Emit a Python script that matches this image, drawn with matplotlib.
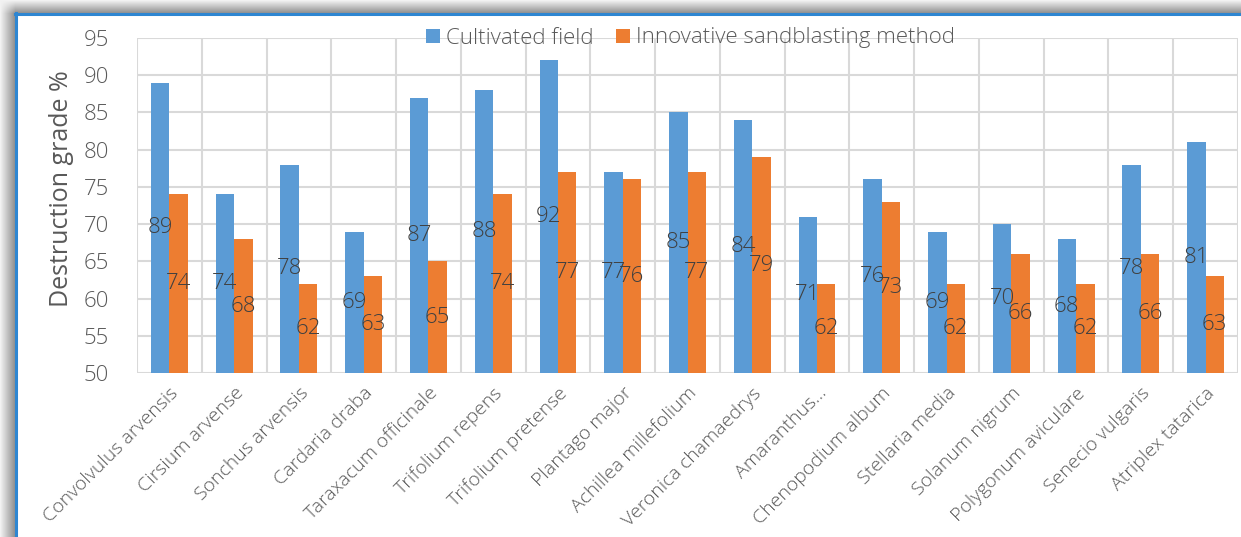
import numpy as np
import matplotlib
matplotlib.use("Agg")
import matplotlib.pyplot as plt

plt.rcParams['font.family'] = ['Open Sans', 'DejaVu Sans']
plt.rcParams['font.weight'] = 'light'

species = ["Convolvulus arvensis", "Cirsium arvense", "Sonchus arvensis", "Cardaria draba",
           "Taraxacum officinale", "Trifolium repens", "Trifolium pretense", "Plantago major",
           "Achillea millefolium", "Veronica chamaedrys", "Amaranthus\u2026", "Chenopodium album",
           "Stellaria media", "Solanum nigrum", "Polygonum aviculare", "Senecio vulgaris",
           "Atriplex tatarica"]
cultivated = [89, 74, 78, 69, 87, 88, 92, 77, 85, 84, 71, 76, 69, 70, 68, 78, 81]
sandblast = [74, 68, 62, 63, 65, 74, 77, 76, 77, 79, 62, 73, 62, 66, 62, 66, 63]

blue = '#5B9BD5'
orange = '#ED7D31'
grid_c = '#D9D9D9'
text_c = '#595959'

fig = plt.figure(figsize=(12.41, 5.37), dpi=100)

# shadowed frame around the chart (top and left edges)
bg = fig.add_axes([0, 0, 1, 1], zorder=-5)
bg.set_xlim(0, 1241)
bg.set_ylim(537, 0)
bg.axis('off')
yy, xx = np.mgrid[0:537, 0:1241]
edge = (yy < 13) | (xx < 15)
top = np.clip(yy / 13.0, 0, 1)
left = np.clip(xx / 15.0, 0, 1)
depth = np.where(yy < 13, top, 1.0) * np.where(xx < 15, left, 1.0)
grey = np.where(edge, 0.95 - 0.4 * depth, 1.0)
shade = np.dstack([grey, grey, grey])
bg.imshow(shade, extent=(0, 1241, 537, 0), aspect='auto')
bg.plot([15, 1241], [13.5, 13.5], color='#2E86D1', lw=2.2)
bg.plot([15.5, 15.5], [13, 537], color='#2E86D1', lw=2.2)

ax = fig.add_axes([137 / 1241, 1 - 373 / 537, (1238 - 137) / 1241, (373 - 38) / 537])
x = np.arange(len(species))
w = 0.285
b1 = ax.bar(x - w / 2, np.array(cultivated) - 50, w, bottom=50, color=blue, zorder=3, label='Cultivated field')
b2 = ax.bar(x + w / 2, np.array(sandblast) - 50, w, bottom=50, color=orange, zorder=3,
            label='Innovative sandblasting method')

# value labels sit at the middle of each bar
for bars, vals in ((b1, cultivated), (b2, sandblast)):
    for r, v in zip(bars, vals):
        ax.text(r.get_x() + r.get_width() / 2, (v + 50) / 2, str(v), ha='center', va='center',
                fontsize=16, color='#404040', zorder=4)

ax.set_ylim(50, 95)
ax.set_xlim(-0.5, len(species) - 0.5)
ax.set_yticks(np.arange(50, 96, 5))
ax.set_xticks(x)
ax.set_xticklabels(species, rotation=45, ha='right', rotation_mode='anchor', fontsize=14, color=text_c)
ax.tick_params(axis='y', labelsize=16, colors=text_c, length=0, pad=20)
ax.tick_params(axis='x', length=0, pad=8)
ax.set_xticks(np.arange(-0.5, len(species), 1), minor=True)
ax.tick_params(axis='x', which='minor', length=0)
ax.grid(axis='y', which='major', color=grid_c, lw=1.5, zorder=0)
ax.grid(axis='x', which='minor', color=grid_c, lw=1.5, zorder=0)
ax.grid(axis='x', which='major', visible=False)
for s in ax.spines.values():
    s.set_visible(False)
ax.axhline(50, color=grid_c, lw=2, zorder=2)

ax.set_ylabel('Destruction grade %', fontsize=18, color=text_c)
ax.yaxis.set_label_coords(-0.057, 0.55)

ax.legend(loc='center', bbox_to_anchor=(0.503, 1.0), ncol=2, frameon=False, fontsize=16,
          labelcolor=text_c, handlelength=0.6, handleheight=0.6, handletextpad=0.3, columnspacing=1.0)

fig.savefig('out.png', dpi=100)
